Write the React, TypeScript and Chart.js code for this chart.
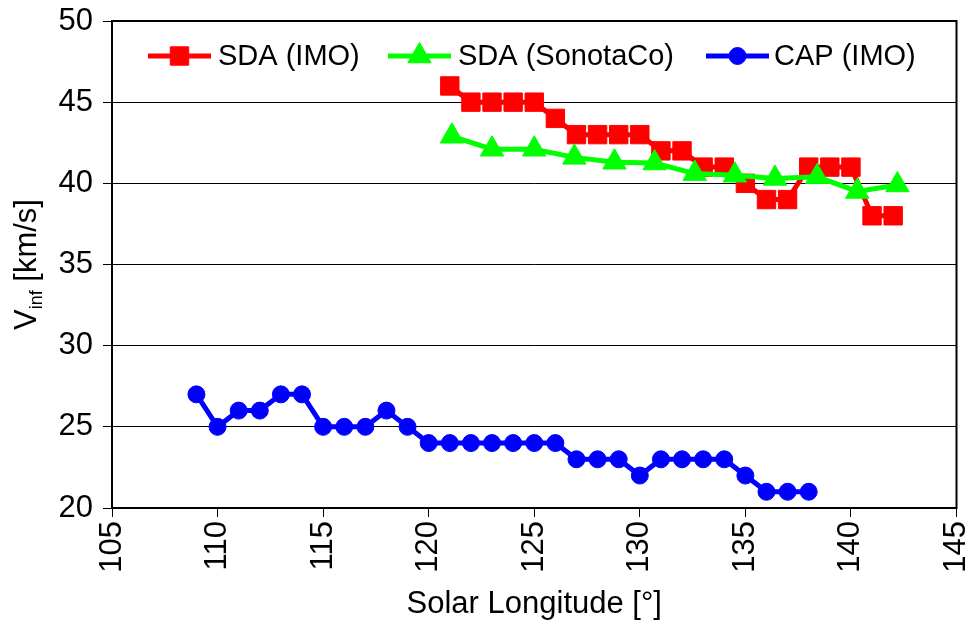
import React, { useEffect, useRef } from 'react';
import { Chart, registerables } from 'chart.js';

Chart.register(...registerables);

// Data
const sdaImoLon = [121, 122, 123, 124, 125, 126, 127, 128, 129, 130, 131, 132, 133, 134, 135, 136, 137, 138, 139, 140, 141, 142];
const sdaImoV = [46, 45, 45, 45, 45, 44, 43, 43, 43, 43, 42, 42, 41, 41, 40, 39, 39, 41, 41, 41, 38, 38];

const sdaSonLon = [121.1, 123.0, 125.0, 126.9, 128.8, 130.7, 132.6, 134.5, 136.4, 138.4, 140.3, 142.2];
const sdaSonV = [42.9, 42.1, 42.1, 41.6, 41.3, 41.25, 40.6, 40.5, 40.3, 40.4, 39.5, 39.9];

const capLon = [109, 110, 111, 112, 113, 114, 115, 116, 117, 118, 119, 120, 121, 122, 123, 124, 125, 126, 127, 128, 129, 130, 131, 132, 133, 134, 135, 136, 137, 138];
const capV = [27, 25, 26, 26, 27, 27, 25, 25, 25, 26, 25, 24, 24, 24, 24, 24, 24, 24, 23, 23, 23, 22, 23, 23, 23, 23, 22, 21, 21, 21];

const seriesNames = ['SDA (IMO)', 'SDA (SonotaCo)', 'CAP (IMO)'];
const xTicks = [105, 110, 115, 120, 125, 130, 135, 140, 145];
const yTicks = [20, 25, 30, 35, 40, 45, 50];
const xTitle = 'Solar Longitude [°]';
const yTitleMain = 'V';
const yTitleSub = 'inf';
const yTitleRest = ' [km/s]';

const FONT = '"Liberation Sans", Arial, Helvetica, sans-serif';

const toXY = (xs: number[], ys: number[]) => xs.map((x, i) => ({ x, y: ys[i] }));

const customPlugin = {
  id: 'customDecor',
  afterDraw(chart: any) {
    const { ctx, chartArea } = chart;
    const { left, right, top, bottom } = chartArea;
    ctx.save();
    // frame
    ctx.strokeStyle = '#000';
    ctx.lineWidth = 2;
    ctx.strokeRect(left, top, right - left, bottom - top);

    // legend
    const legendY = top + 35;
    const items = [
      { lineStart: 36, textX: 106 },
      { lineStart: 276, textX: 346 },
      { lineStart: 594, textX: 662 },
    ];
    chart.data.datasets.forEach((ds: any, i: number) => {
      const it = items[i];
      const x1 = left + it.lineStart;
      const x2 = x1 + 63;
      ctx.strokeStyle = ds.borderColor;
      ctx.lineWidth = ds.borderWidth;
      ctx.beginPath();
      ctx.moveTo(x1, legendY);
      ctx.lineTo(x2, legendY);
      ctx.stroke();
      ctx.fillStyle = ds.pointBackgroundColor;
      ctx.strokeStyle = ds.pointBorderColor;
      ctx.lineWidth = ds.pointBorderWidth;
      const cx = (x1 + x2) / 2;
      const r = ds.pointRadius;
      ctx.beginPath();
      if (ds.pointStyle === 'rect') {
        const s = Math.SQRT1_2 * r;
        ctx.rect(cx - s, legendY - s, 2 * s, 2 * s);
      } else if (ds.pointStyle === 'triangle') {
        for (let k = 0; k < 3; k++) {
          const a = (k * 2 * Math.PI) / 3;
          const px = cx + Math.sin(a) * r;
          const py = legendY - Math.cos(a) * r;
          if (k === 0) ctx.moveTo(px, py);
          else ctx.lineTo(px, py);
        }
        ctx.closePath();
      } else {
        ctx.arc(cx, legendY, r, 0, Math.PI * 2);
      }
      ctx.fill();
      ctx.stroke();
      ctx.fillStyle = '#000';
      ctx.font = `29px ${FONT}`;
      ctx.textBaseline = 'middle';
      ctx.textAlign = 'left';
      ctx.fillText(ds.label, left + it.textX, legendY + 1);
    });

    // y title with subscript
    const cy = (top + bottom) / 2;
    ctx.translate(36, cy);
    ctx.rotate(-Math.PI / 2);
    ctx.fillStyle = '#000';
    ctx.textBaseline = 'alphabetic';
    ctx.textAlign = 'left';
    ctx.font = `31px ${FONT}`;
    const wV = ctx.measureText(yTitleMain).width;
    const wR = ctx.measureText(yTitleRest).width;
    ctx.font = `18px ${FONT}`;
    const wS = ctx.measureText(yTitleSub).width;
    const total = wV + wS + wR;
    let x = -total / 2;
    ctx.font = `31px ${FONT}`;
    ctx.fillText(yTitleMain, x, 0);
    x += wV;
    ctx.font = `18px ${FONT}`;
    ctx.fillText(yTitleSub, x, 6);
    x += wS;
    ctx.font = `31px ${FONT}`;
    ctx.fillText(yTitleRest, x, 0);
    ctx.restore();
  },
};

export default function App() {
  const ref = useRef<HTMLCanvasElement>(null);
  useEffect(() => {
    if (!ref.current) return;
    const chart = new Chart(ref.current, {
      type: 'line',
      data: {
        datasets: [
          {
            label: seriesNames[0],
            data: toXY(sdaImoLon, sdaImoV),
            borderColor: '#FF0000',
            backgroundColor: '#FF0000',
            borderWidth: 5,
            pointStyle: 'rect',
            pointRadius: 13,
            pointBackgroundColor: '#FF0000',
            pointBorderColor: '#FF0000',
            pointBorderWidth: 1,
            tension: 0,
            order: 3,
          },
          {
            label: seriesNames[1],
            data: toXY(sdaSonLon, sdaSonV),
            borderColor: '#00FF00',
            backgroundColor: '#00FF00',
            borderWidth: 5,
            pointStyle: 'triangle',
            pointRadius: 13.5,
            pointBackgroundColor: '#00FF00',
            pointBorderColor: '#00FF00',
            pointBorderWidth: 1,
            tension: 0,
            order: 2,
          },
          {
            label: seriesNames[2],
            data: toXY(capLon, capV),
            borderColor: '#0000FF',
            backgroundColor: '#0000FF',
            borderWidth: 5,
            pointStyle: 'circle',
            pointRadius: 8.5,
            pointBackgroundColor: '#0000FF',
            pointBorderColor: '#0000FF',
            pointBorderWidth: 1,
            tension: 0,
            order: 1,
          },
        ],
      },
      options: {
        animation: false,
        responsive: false,
        layout: { padding: { top: 21, right: 11, left: 0, bottom: 0 } },
        plugins: {
          legend: { display: false },
          tooltip: { enabled: false },
          title: { display: false },
        },
        scales: {
          x: {
            type: 'linear',
            min: 105,
            max: 145,
            afterBuildTicks: (s: any) => {
              s.ticks = xTicks.map((v) => ({ value: v }));
            },
            afterFit: (s: any) => {
              s.height = 624 - 508;
              s.paddingLeft = 0;
              s.paddingRight = 0;
            },
            ticks: {
              minRotation: 90,
              maxRotation: 90,
              autoSkip: false,
              color: '#000',
              padding: 4,
              font: { family: FONT, size: 31 },
            },
            grid: {
              drawOnChartArea: false,
              drawTicks: true,
              tickLength: 9,
              color: '#000',
              lineWidth: 1,
            },
            border: { display: true, color: '#000', width: 2 },
            title: {
              display: true,
              text: xTitle,
              color: '#000',
              font: { family: FONT, size: 31 },
              padding: { top: 0, bottom: 1 },
            },
          },
          y: {
            type: 'linear',
            min: 20,
            max: 50,
            afterBuildTicks: (s: any) => {
              s.ticks = yTicks.map((v) => ({ value: v }));
            },
            afterFit: (s: any) => {
              s.width = 112;
              s.paddingTop = 0;
              s.paddingBottom = 0;
            },
            ticks: {
              color: '#000',
              padding: 10,
              font: { family: FONT, size: 31 },
            },
            grid: {
              drawOnChartArea: true,
              drawTicks: true,
              tickLength: 9,
              color: '#000',
              lineWidth: 1,
            },
            border: { display: true, color: '#000', width: 2 },
          },
        },
      },
      plugins: [customPlugin],
    });
    return () => chart.destroy();
  }, []);
  return (
    <div style={{ position: 'absolute', left: 0, top: 0, width: 971, height: 624, background: '#fff' }}>
      <canvas ref={ref} width={971} height={624} style={{ width: 971, height: 624, display: 'block' }} />
    </div>
  );
}
